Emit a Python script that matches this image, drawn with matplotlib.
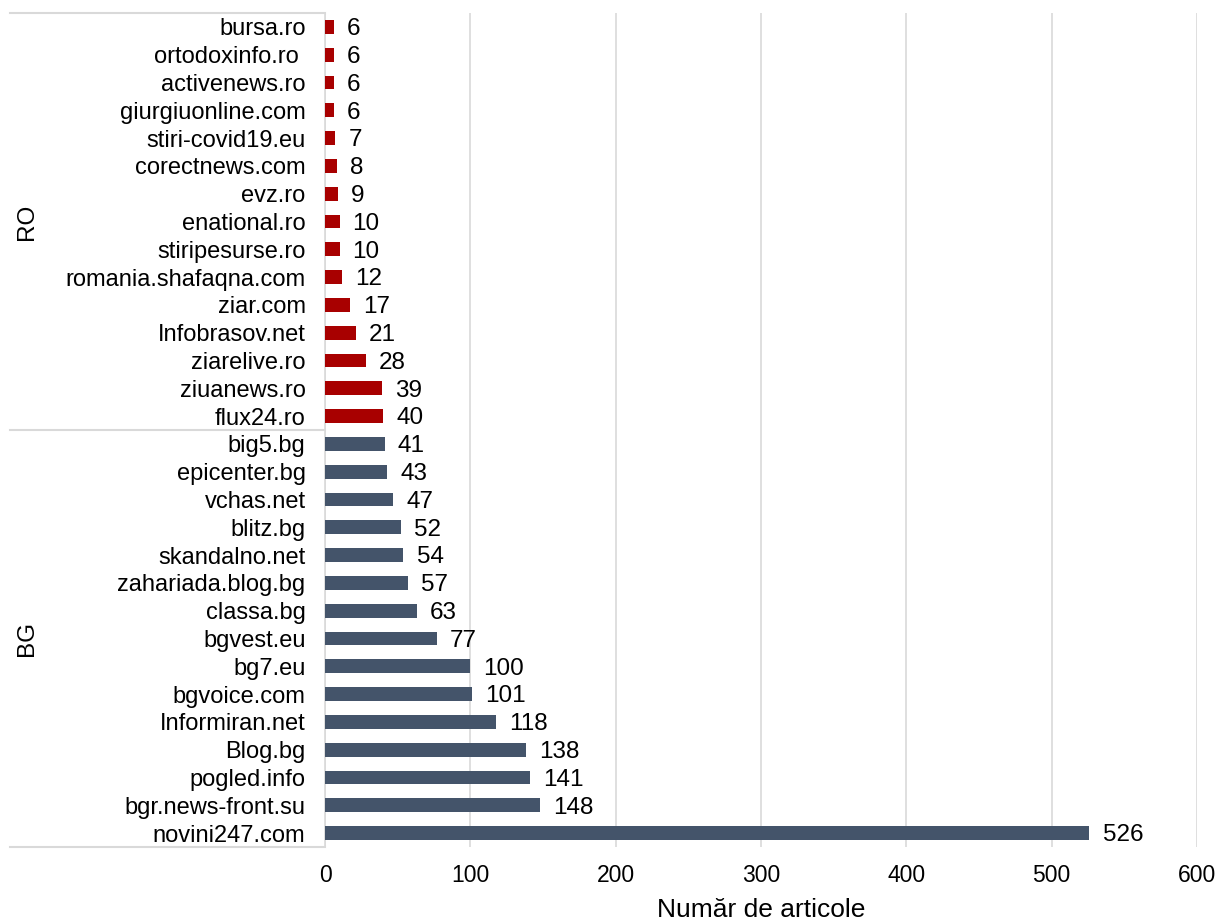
import matplotlib
matplotlib.use("Agg")
import matplotlib.pyplot as plt
import numpy as np

plt.rcParams['font.family'] = ['Liberation Sans', 'DejaVu Sans']

ro_sites = ["bursa.ro", "ortodoxinfo.ro ", "activenews.ro", "giurgiuonline.com", "stiri-covid19.eu",
            "corectnews.com", "evz.ro", "enational.ro", "stiripesurse.ro", "romania.shafaqna.com",
            "ziar.com", "Infobrasov.net", "ziarelive.ro", "ziuanews.ro", "flux24.ro"]
ro_values = [6, 6, 6, 6, 7, 8, 9, 10, 10, 12, 17, 21, 28, 39, 40]

bg_sites = ["big5.bg", "epicenter.bg", "vchas.net", "blitz.bg", "skandalno.net", "zahariada.blog.bg",
            "classa.bg", "bgvest.eu", "bg7.eu", "bgvoice.com", "Informiran.net", "Blog.bg",
            "pogled.info", "bgr.news-front.su", "novini247.com"]
bg_values = [41, 43, 47, 52, 54, 57, 63, 77, 100, 101, 118, 138, 141, 148, 526]

groups = ["RO", "BG"]
xticks = [0, 100, 200, 300, 400, 500, 600]
xlabel = "Număr de articole"

ro_color = "#A80000"
bg_color = "#44546A"
grid_color = "#D9D9D9"

fig = plt.figure(figsize=(12.32, 9.24), dpi=100)
ax = fig.add_axes([325/1232, 1-847/924, (1197-325)/1232, (847-13)/924])

labels = ro_sites + bg_sites
values = ro_values + bg_values
colors = [ro_color]*len(ro_values) + [bg_color]*len(bg_values)
y = np.arange(len(labels))

ax.barh(y, values, height=0.5, color=colors, zorder=3)
for yi, v in zip(y, values):
    ax.text(v + 9, yi + 0.08, str(v), va='center', ha='left', fontsize=17.5, color='black', zorder=4)

ax.set_ylim(len(labels)-0.5, -0.5)
ax.set_xlim(0, 600)
ax.set_xticks(xticks)
ax.set_xticklabels([str(t) for t in xticks], fontsize=16.5)
ax.set_yticks(y)
ax.set_yticklabels(labels, fontsize=17)
ax.tick_params(axis='y', length=0, pad=14)
ax.tick_params(axis='x', length=0, pad=12)
ax.xaxis.grid(True, color=grid_color, linewidth=1.2, zorder=0)
for s in ['top', 'right', 'bottom']:
    ax.spines[s].set_visible(False)
ax.spines['left'].set_color(grid_color)
ax.spines['left'].set_linewidth(1.2)
ax.set_xlabel(xlabel, fontsize=19, labelpad=8)

# group brackets
x_left = (10-325)/(1197-325)
trans = ax.get_yaxis_transform()
nro = len(ro_sites)
for yb in [-0.5, nro-0.5, len(labels)-0.5]:
    ax.plot([x_left, 0], [yb, yb], transform=trans, color=grid_color, lw=1.5, clip_on=False)
xg = (27-325)/(1197-325)
ax.text(xg, (nro-1)/2, groups[0], transform=trans, rotation=90, va='center', ha='center', fontsize=17.5)
ax.text(xg, nro + (len(bg_sites)-1)/2, groups[1], transform=trans, rotation=90, va='center', ha='center', fontsize=17.5)

fig.savefig("out.png", dpi=100)
